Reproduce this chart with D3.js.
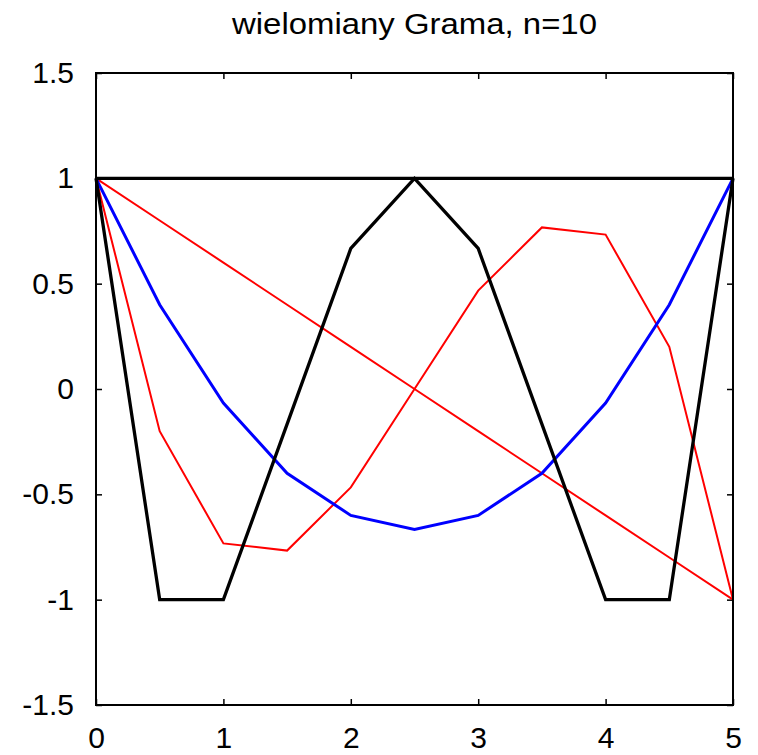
<!DOCTYPE html>
<html>
<head>
<meta charset="utf-8">
<script src="https://cdn.jsdelivr.net/npm/d3@7"></script>
<style>
  body { margin: 0; background: #fff; }
  text { font-family: "Liberation Sans", Arial, sans-serif; }
</style>
</head>
<body>
<svg width="758" height="755"></svg>
<script>

// sample points x = 0, 0.5, ..., 5
var xs = [0, 0.5, 1, 1.5, 2, 2.5, 3, 3.5, 4, 4.5, 5];

// Gram polynomial values
var g0 = [1, 1, 1, 1, 1, 1, 1, 1, 1, 1, 1];
var g1 = [1, 0.8, 0.6, 0.4, 0.2, 0, -0.2, -0.4, -0.6, -0.8, -1];
var g2 = [1, 0.4, -0.067, -0.4, -0.6, -0.667, -0.6, -0.4, -0.067, 0.4, 1];
var g3 = [1, -0.2, -0.733, -0.767, -0.467, 0, 0.467, 0.767, 0.733, 0.2, -1];
var g4 = [1, -1, -1, -0.167, 0.667, 1, 0.667, -0.167, -1, -1, 1];

var xTicks = [0, 1, 2, 3, 4, 5];
var yTicks = [-1.5, -1, -0.5, 0, 0.5, 1, 1.5];

var series = [
  {values: g1, color: "#ff0000", width: 2},
  {values: g3, color: "#ff0000", width: 2},
  {values: g2, color: "#0000ff", width: 3},
  {values: g4, color: "#000000", width: 3.3},
  {values: g0, color: "#000000", width: 3.3}
];

var svg = d3.select("svg"),
    margin = {top: 73, right: 25, bottom: 50, left: 96},
    width = +svg.attr("width") - margin.left - margin.right,
    height = +svg.attr("height") - margin.top - margin.bottom,
    g = svg.append("g").attr("transform", "translate(" + margin.left + "," + margin.top + ")");

var x = d3.scaleLinear().domain([0, 5]).range([0, width]);
var y = d3.scaleLinear().domain([-1.5, 1.5]).range([height, 0]);

var fmt = function(d) { return String(d); };

// axes with inward ticks
var xAxis = d3.axisBottom(x).tickValues(xTicks).tickSize(-6).tickPadding(22).tickFormat(fmt);
var yAxis = d3.axisLeft(y).tickValues(yTicks).tickSize(-6).tickPadding(22).tickFormat(fmt);

g.append("g")
    .attr("class", "axis axis--x")
    .attr("transform", "translate(0," + height + ")")
    .call(xAxis);

g.append("g")
    .attr("class", "axis axis--y")
    .call(yAxis);

// mirror ticks on top and right
g.append("g")
    .attr("class", "axis")
    .call(d3.axisTop(x).tickValues(xTicks).tickSize(-6).tickFormat(""));

g.append("g")
    .attr("class", "axis")
    .attr("transform", "translate(" + width + ",0)")
    .call(d3.axisRight(y).tickValues(yTicks).tickSize(-6).tickFormat(""));

g.selectAll(".axis .domain").remove();
g.selectAll(".axis line").attr("stroke", "#000").attr("stroke-width", 1.5);
g.selectAll(".axis text").attr("font-size", 30).attr("fill", "#000")
    .attr("font-family", "'Liberation Sans', Arial, sans-serif");
g.select(".axis--x").selectAll("text").attr("dy", "0.71em");

var line = d3.line()
    .x(function(d, i) { return x(xs[i]); })
    .y(function(d) { return y(d); });

g.selectAll(".series")
    .data(series)
  .enter().append("path")
    .attr("class", "series")
    .attr("fill", "none")
    .attr("stroke", function(d) { return d.color; })
    .attr("stroke-width", function(d) { return d.width; })
    .attr("stroke-linejoin", "miter")
    .attr("d", function(d) { return line(d.values); });

// frame
g.append("rect")
    .attr("width", width)
    .attr("height", height)
    .attr("fill", "none")
    .attr("stroke", "#000")
    .attr("stroke-width", 2);

svg.append("text")
    .attr("x", margin.left + width / 2)
    .attr("y", 34)
    .attr("text-anchor", "middle")
    .attr("font-size", 29)
    .attr("textLength", 365)
    .attr("lengthAdjust", "spacingAndGlyphs")
    .text("wielomiany Grama, n=10");

</script>
</body>
</html>
